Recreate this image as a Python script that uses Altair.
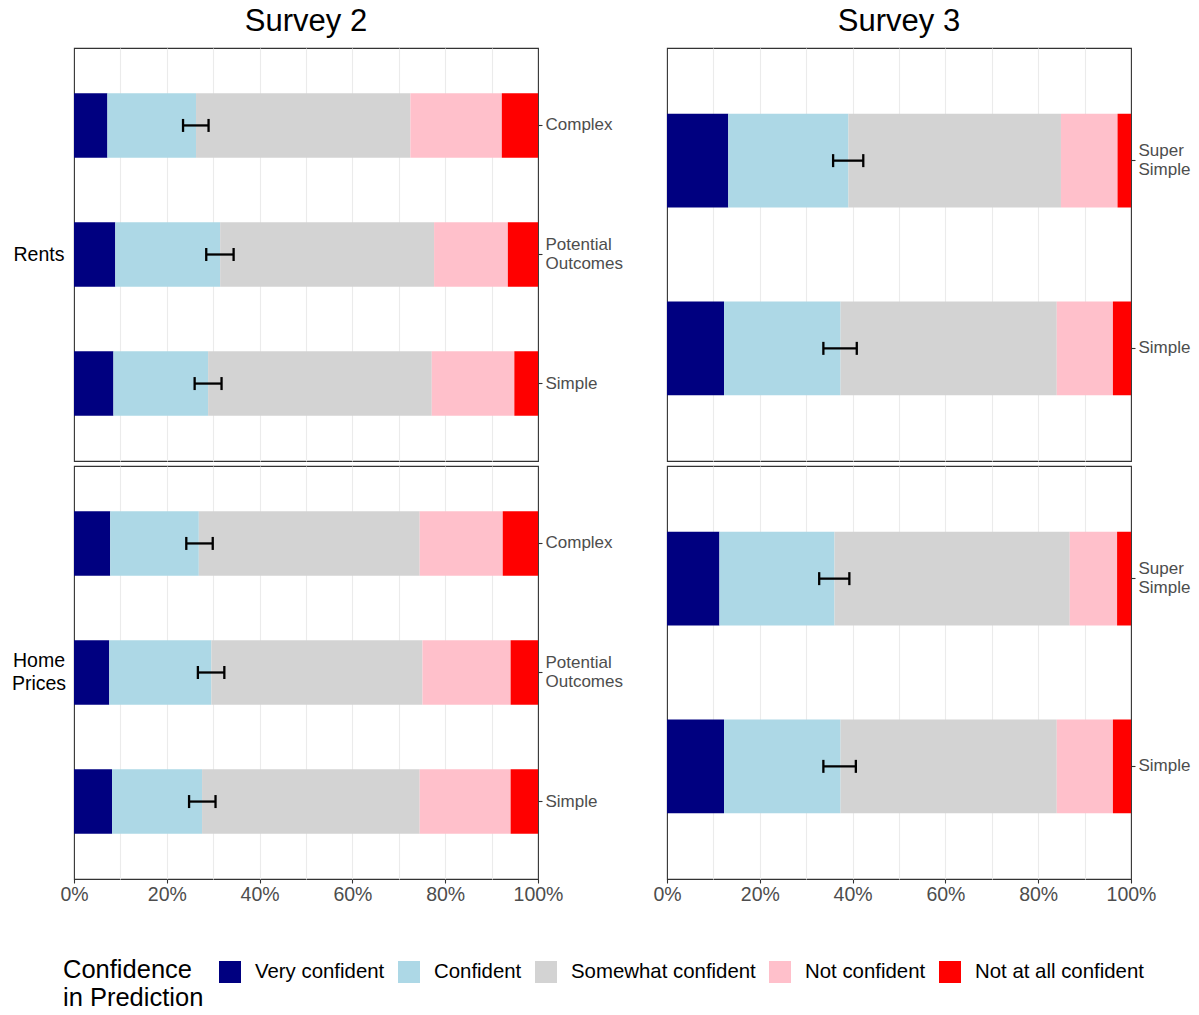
import altair as alt
import pandas as pd

# Confidence levels, left to right in each stacked bar
levels = ["Very confident", "Confident", "Somewhat confident", "Not confident", "Not at all confident"]
level_colors = ["#000080", "#ADD8E6", "#D3D3D3", "#FFC0CB", "#FF0000"]

# Question versions shown in each survey (top to bottom)
survey2_versions = ["Complex", "Potential Outcomes", "Simple"]
survey3_versions = ["Super Simple", "Simple"]

# Shares of respondents (%) per version, in the order of `levels`
rents_s2_shares = [
    [7.2, 19.1, 46.2, 19.7, 7.8],
    [8.9, 22.6, 46.1, 15.9, 6.5],
    [8.5, 20.4, 48.2, 17.8, 5.1],
]
homes_s2_shares = [
    [7.8, 19.1, 47.6, 17.9, 7.6],
    [7.6, 22.0, 45.5, 19.0, 5.9],
    [8.2, 19.4, 46.9, 19.6, 5.9],
]
rents_s3_shares = [
    [13.2, 25.9, 45.8, 12.2, 2.9],
    [12.3, 25.1, 46.6, 12.1, 3.9],
]
homes_s3_shares = [
    [11.3, 24.8, 50.7, 10.2, 3.0],
    [12.3, 25.1, 46.6, 12.1, 3.9],
]

# Confidence intervals (%) for the share that is confident or very confident
rents_s2_ci = [[23.5, 29.0], [28.5, 34.4], [26.0, 31.8]]
homes_s2_ci = [[24.2, 29.9], [26.7, 32.4], [24.8, 30.5]]
rents_s3_ci = [[35.8, 42.3], [33.7, 40.9]]
homes_s3_ci = [[32.8, 39.3], [33.7, 40.7]]

x_ticks = list(range(0, 101, 10))

FONT = "Liberation Sans"
W, H = 464, 413
LINE = 19      # line height of two-line version labels
ROW_LINE = 23  # line height of two-line row labels

legend = alt.Legend(
    orient="none",
    direction="horizontal",
    legendX=-11,
    legendY=913,
    title=["Confidence", "in Prediction"],
    titleOrient="left",
    titleFontSize=25.5,
    titleFontWeight="normal",
    titleColor="black",
    titleFont=FONT,
    titleLineHeight=28,
    titlePadding=15,
    titleBaseline="top",
    labelFontSize=20.4,
    labelColor="black",
    labelFont=FONT,
    labelLimit=0,
    symbolType="square",
    symbolSize=484,
    symbolStrokeWidth=0,
    symbolOpacity=1,
    labelOffset=14,
    columnPadding=13,
)

# hide grid lines on the panel edges so the border stays dark
edge_grid = {"condition": {"test": "datum.value === 0 || datum.value === 100", "value": 0}, "value": 1}


def make_panel(versions, shares, ci, bottom, title=None, row_label=None):
    rows = []
    for v, vals in zip(versions, shares):
        for rank, (lvl, val) in enumerate(zip(levels, vals)):
            rows.append({"version": v, "level": lvl, "rank": rank, "share": val})
    bars_df = pd.DataFrame(rows)
    ci_df = pd.DataFrame({
        "version": versions,
        "lo": [c[0] for c in ci],
        "hi": [c[1] for c in ci],
    })

    x_scale = alt.Scale(domain=[0, 100], nice=False, zero=True)
    if bottom:
        x_axis = alt.Axis(
            title=None,
            values=x_ticks,
            labelExpr="datum.value % 20 === 0 ? datum.value + '%' : ''",
            labelFontSize=19.5,
            labelColor="#4D4D4D",
            labelFont=FONT,
            labelFlush=False,
            labelOverlap=False,
            labelPadding=2,
            tickSize=4,
            tickColor="#333333",
            tickWidth=1.1,
            tickOpacity={"condition": {"test": "datum.value % 20 !== 0", "value": 0}, "value": 1},
            domain=False,
            grid=True,
            gridColor="#EBEBEB",
            gridWidth=1.1,
            gridOpacity=edge_grid,
        )
    else:
        x_axis = alt.Axis(
            title=None,
            values=x_ticks,
            labels=False,
            ticks=False,
            domain=False,
            grid=True,
            gridColor="#EBEBEB",
            gridWidth=1.1,
            gridOpacity=edge_grid,
        )

    y_enc = alt.Y(
        "version:N",
        sort=versions,
        scale=alt.Scale(domain=versions, paddingInner=0.5, paddingOuter=0.35),
        axis=alt.Axis(
            orient="right",
            title=None,
            labelExpr="split(datum.label, ' ')",
            labelFontSize=17,
            labelColor="#4D4D4D",
            labelFont=FONT,
            labelLineHeight=LINE,
            labelPadding=3,
            labelAlign="left",
            labelBaseline="middle",
            labelOffset={"condition": {"test": "indexof(datum.label, ' ') >= 0", "value": -LINE / 2}, "value": 0},
            tickSize=4,
            tickColor="#333333",
            tickWidth=1.1,
            domain=False,
            grid=False,
        ),
    )

    bars = alt.Chart(bars_df).mark_bar().encode(
        x=alt.X("share:Q", stack="zero", scale=x_scale, axis=x_axis),
        y=y_enc,
        color=alt.Color("level:N", scale=alt.Scale(domain=levels, range=level_colors), legend=legend),
        order=alt.Order("rank:Q"),
    )
    whisker = alt.Chart(ci_df).mark_rule(color="black", strokeWidth=2.3).encode(
        x=alt.X("lo:Q", scale=x_scale),
        x2="hi:Q",
        y=alt.Y("version:N", sort=versions),
    )
    cap_lo = alt.Chart(ci_df).mark_tick(color="black", thickness=2.3, size=13, opacity=1).encode(
        x=alt.X("lo:Q", scale=x_scale),
        y=alt.Y("version:N", sort=versions),
    )
    cap_hi = alt.Chart(ci_df).mark_tick(color="black", thickness=2.3, size=13, opacity=1).encode(
        x=alt.X("hi:Q", scale=x_scale),
        y=alt.Y("version:N", sort=versions),
    )
    layers = [bars, whisker, cap_lo, cap_hi]
    if row_label is not None:
        n_lines = row_label.count("\n") + 1
        label = alt.Chart(pd.DataFrame({"label": [row_label]})).mark_text(
            font=FONT, fontSize=19.5, color="black", align="center",
            baseline="middle", lineBreak="\n", lineHeight=ROW_LINE,
            dy=-(n_lines - 1) * ROW_LINE / 2,
        ).encode(x=alt.value(-35), y=alt.value(H / 2), text="label:N")
        layers.append(label)

    props = dict(width=W, height=H)
    if title is not None:
        props["title"] = alt.TitleParams(
            title, fontSize=31, font=FONT, fontWeight="normal", color="black",
            anchor="middle", baseline="alphabetic", offset=-14,
        )
    return alt.layer(*layers).properties(**props)


p_rents_s2 = make_panel(survey2_versions, rents_s2_shares, rents_s2_ci, False, "Survey 2", "Rents")
p_rents_s3 = make_panel(survey3_versions, rents_s3_shares, rents_s3_ci, False, "Survey 3")
p_homes_s2 = make_panel(survey2_versions, homes_s2_shares, homes_s2_ci, True, None, "Home\nPrices")
p_homes_s3 = make_panel(survey3_versions, homes_s3_shares, homes_s3_ci, True)

chart = alt.concat(
    p_rents_s2, p_rents_s3, p_homes_s2, p_homes_s3,
    columns=2,
    spacing={"row": 3, "column": 28},
).properties(
    padding={"left": 11, "top": 5, "right": 5, "bottom": 5},
).configure(
    font=FONT,
).configure_view(
    stroke="#333333",
    strokeWidth=1.1,
)

chart.save("out.html", embed_options={"renderer": "svg", "actions": False})
